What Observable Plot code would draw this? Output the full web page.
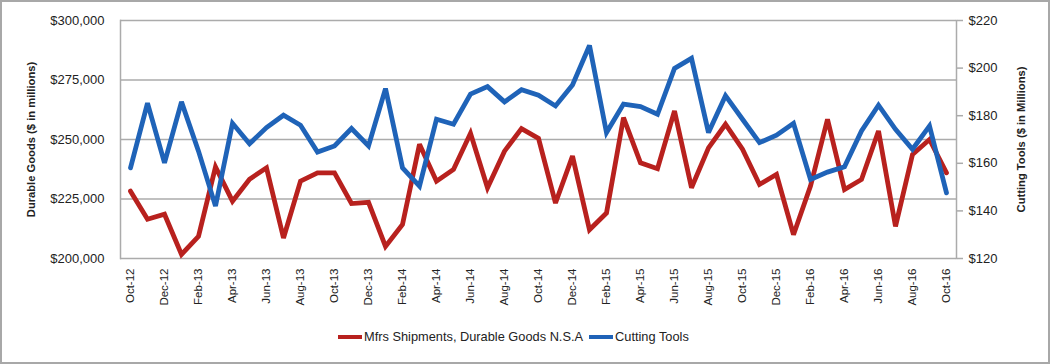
<!DOCTYPE html>
<html>
<head>
<meta charset="utf-8">
<script src="https://cdn.jsdelivr.net/npm/d3@7"></script>
<script src="https://cdn.jsdelivr.net/npm/@observablehq/plot@0.6"></script>
<style>
  html, body { margin: 0; padding: 0; background: #fff; }
  #wrap { position: relative; width: 1050px; height: 364px; overflow: hidden; font-family: "Liberation Sans", Arial, sans-serif; }
  #border { position: absolute; left: 0; top: 0; width: 1046px; height: 360px; border: 2px solid #a8a8a8; pointer-events: none; }
  #chart { position: absolute; left: 0; top: 0; }
  #legend { position: absolute; left: 338px; top: 329px; display: flex; align-items: center; font-size: 12.8px; color: #222; white-space: nowrap; }
  .sw { display: inline-block; width: 24px; height: 4px; margin-right: 2px; }
  .item { display: flex; align-items: center; margin-right: 6px; }
  g[aria-label="y-axis label"] text { font-weight: bold; font-size: 11.2px; }
</style>
</head>
<body>
<div id="wrap">
  <div id="chart"></div>
  <div id="legend"></div>
  <div id="border"></div>
</div>
<script>
const months = ["Oct-12","Nov-12","Dec-12","Jan-13","Feb-13","Mar-13","Apr-13","May-13","Jun-13","Jul-13","Aug-13","Sep-13",
  "Oct-13","Nov-13","Dec-13","Jan-14","Feb-14","Mar-14","Apr-14","May-14","Jun-14","Jul-14","Aug-14","Sep-14",
  "Oct-14","Nov-14","Dec-14","Jan-15","Feb-15","Mar-15","Apr-15","May-15","Jun-15","Jul-15","Aug-15","Sep-15",
  "Oct-15","Nov-15","Dec-15","Jan-16","Feb-16","Mar-16","Apr-16","May-16","Jun-16","Jul-16","Aug-16","Sep-16","Oct-16"];

const durableGoods = [228300,216500,218600,201700,209300,238500,224100,233300,238100,208600,232500,236000,
  236000,223100,223600,205100,214300,248000,232500,237400,252600,229700,245100,254600,
  250500,223300,243000,212100,219100,259200,240200,237700,262000,229700,246500,256400,
  245900,231100,235300,210000,230400,258500,229000,233200,253600,213500,243700,250000,236000];

const cuttingTools = [158.1,185.3,160.2,185.8,165.1,142.0,176.8,168.2,175.0,180.2,176.0,164.7,
  167.3,174.6,167.3,191.4,158.1,150.4,178.5,176.4,189.1,192.2,185.8,190.9,
  188.6,184.1,192.9,209.5,172.9,184.9,183.8,180.6,199.9,204.1,172.9,188.4,
  178.5,168.7,171.8,176.8,153.2,156.3,158.5,173.6,184.4,174.3,165.9,175.7,147.6];

const xTickLabels = ["Oct-12","Dec-12","Feb-13","Apr-13","Jun-13","Aug-13","Oct-13","Dec-13","Feb-14","Apr-14","Jun-14","Aug-14",
  "Oct-14","Dec-14","Feb-15","Apr-15","Jun-15","Aug-15","Oct-15","Dec-15","Feb-16","Apr-16","Jun-16","Aug-16","Oct-16"];
const leftTicks = [200000,225000,250000,275000,300000];
const rightTicks = [120,140,160,180,200,220];

const seriesNames = ["Mfrs Shipments, Durable Goods N.S.A", "Cutting Tools"];
const colors = ["#b8211e", "#1f63b8"];

// map right-axis values onto left-axis scale
const rMin = 120, rMax = 220, lMin = 200000, lMax = 300000;
const toLeft = v => lMin + (v - rMin) * (lMax - lMin) / (rMax - rMin);
const fromLeft = v => rMin + (v - lMin) * (rMax - rMin) / (lMax - lMin);

const red = months.map((m, i) => ({month: m, value: durableGoods[i]}));
const blue = months.map((m, i) => ({month: m, value: toLeft(cuttingTools[i])}));

const fmt = d3.format(",");
const gridColor = "#ababab";

const chart = Plot.plot({
  width: 1050,
  height: 318,
  marginLeft: 120,
  marginRight: 94,
  marginTop: 20,
  marginBottom: 60,
  style: {fontFamily: "'Liberation Sans', Arial, sans-serif", color: "#222", background: "transparent"},
  x: {type: "point", domain: months, padding: 0.5},
  y: {domain: [lMin, lMax]},
  marks: [
    Plot.gridY(leftTicks, {stroke: gridColor, strokeOpacity: 1, strokeWidth: 1.5}),
    Plot.frame({anchor: "left", stroke: gridColor, strokeWidth: 1.5}),
    Plot.frame({anchor: "right", stroke: gridColor, strokeWidth: 1.5}),
    Plot.axisY({
      ticks: leftTicks, tickSize: 0, tickPadding: 16, fontSize: 13,
      tickFormat: d => "$" + fmt(d),
      label: "Durable Goods ($ in millions)", labelAnchor: "center", labelArrow: "none", labelOffset: 93
    }),
    Plot.axisY({
      anchor: "right", ticks: rightTicks.map(toLeft), tickSize: 6, stroke: gridColor, strokeWidth: 1.5,
      tickPadding: 6, fontSize: 13,
      tickFormat: d => "$" + Math.round(fromLeft(d)),
      label: "Cutting Tools ($ in Millions)", labelAnchor: "center", labelArrow: "none", labelOffset: 68
    }),
    Plot.axisX({
      ticks: xTickLabels, tickSize: 0, tickPadding: 10, tickRotate: -90, fontSize: 11.5, label: null
    }),
    Plot.line(red, {x: "month", y: "value", stroke: colors[0], strokeWidth: 4.8, strokeLinejoin: "miter", strokeMiterlimit: 3}),
    Plot.line(blue, {x: "month", y: "value", stroke: colors[1], strokeWidth: 4.8, strokeLinejoin: "miter", strokeMiterlimit: 3})
  ]
});
document.getElementById("chart").appendChild(chart);

const legend = document.getElementById("legend");
seriesNames.forEach((name, i) => {
  const item = document.createElement("div");
  item.className = "item";
  const sw = document.createElement("span");
  sw.className = "sw";
  sw.style.background = colors[i];
  const t = document.createElement("span");
  t.textContent = name;
  item.appendChild(sw);
  item.appendChild(t);
  legend.appendChild(item);
});
</script>
</body>
</html>
